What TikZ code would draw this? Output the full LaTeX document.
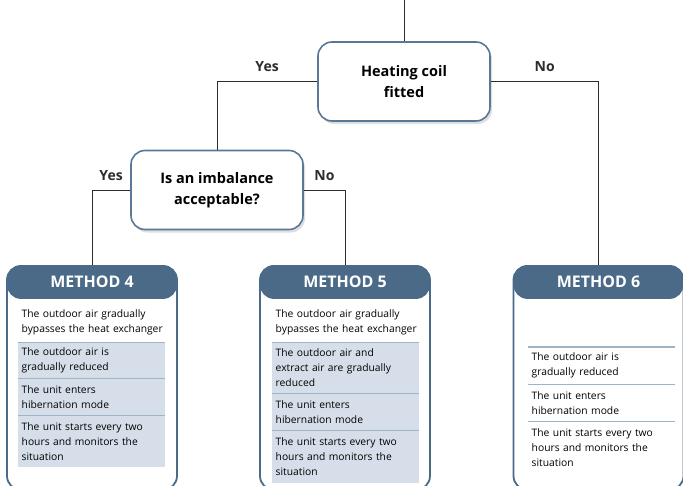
\documentclass[tikz,border=0pt]{standalone}
\usepackage{fontspec}
\setmainfont{Open Sans}
\usepackage{tikz}
\usetikzlibrary{positioning, shadows, calc}
\definecolor{head_blue}{RGB}{74, 106, 136}
\definecolor{dec_border}{RGB}{88, 120, 150}
\definecolor{row_shade}{RGB}{214, 223, 233}
\definecolor{sep_blue}{RGB}{160, 180, 200}
\definecolor{line_gray}{RGB}{45, 45, 45}
\hyphenpenalty=10000
\exhyphenpenalty=10000

\begin{document}
\begin{tikzpicture}[
        x=1pt, y=-1pt,
        decision/.style={draw=dec_border, line width=1.6pt, rounded corners=14pt, fill=white,
            minimum width=172pt, minimum height=79pt, align=center,
            font=\bfseries\fontsize{14.5}{21}\selectfont,
            drop shadow={opacity=0.25, shadow xshift=2pt, shadow yshift=-3pt}},
        methodbox/.style={draw=head_blue, line width=1.8pt, rounded corners=14pt, fill=white,
            minimum width=170pt, minimum height=224pt, anchor=north,
            path picture={\fill[head_blue] (path picture bounding box.north west)
                rectangle ([yshift=-33pt]path picture bounding box.north east);}},
        methodtitle/.style={text=white, font=\bfseries\fontsize{16}{16}\selectfont},
        row/.style={text width=140pt, inner xsep=3.5pt, inner ysep=0pt, align=left,
            font=\fontsize{10.3}{15}\selectfont},
        shaded/.style={row, fill=row_shade},
        sepline/.style={sep_blue, line width=1.2pt},
        link/.style={line_gray, line width=1pt},
        answer/.style={font=\bfseries\fontsize{14}{14}\selectfont, above=6pt}
    ]
        \useasboundingbox (0,0) rectangle (683,485);
        \clip (0,0) rectangle (683,485);

        % -------- Decisions --------
        \node[decision] (hc) at (404,81.5) {Heating coil\\fitted};
        \node[decision] (ia) at (217,190) {Is an imbalance\\acceptable?};

        % -------- Methods --------
        \node[methodbox] (m4) at (92,265) {};
        \node[methodbox] (m5) at (345,265) {};
        \node[methodbox] (m6) at (598.5,265) {};
        \foreach \m/\n in {m4/4, m5/5, m6/6}{
            \node[methodtitle] (t\n) at ([yshift=-16.5pt]\m.north) {METHOD \n};
        }

        % Method 4
        \node[row, minimum height=39pt, anchor=north west] (r41) at (18,303)
            {The outdoor air gradually\\\mbox{bypasses the heat exchanger}};
        \node[shaded, minimum height=36pt, below=0pt of r41] (r42)
            {The outdoor air is\\gradually reduced};
        \node[shaded, minimum height=36pt, below=0pt of r42] (r43)
            {The unit enters\\hibernation mode};
        \node[shaded, minimum height=52pt, below=0pt of r43] (r44)
            {The unit starts every two\\hours and monitors the\\situation};

        % Method 5
        \node[row, minimum height=39pt, anchor=north west] (r51) at (272,303)
            {The outdoor air gradually\\\mbox{bypasses the heat exchanger}};
        \node[shaded, minimum height=51pt, below=0pt of r51] (r52)
            {The outdoor air and\\extract air are gradually\\reduced};
        \node[shaded, minimum height=36pt, below=0pt of r52] (r53)
            {The unit enters\\hibernation mode};
        \node[shaded, minimum height=53pt, below=0pt of r53] (r54)
            {The unit starts every two\\hours and monitors the\\situation};

        % Method 6
        \node[row, minimum height=37pt, anchor=north west] (r62) at (528,347)
            {The outdoor air is\\gradually reduced};
        \node[row, minimum height=37pt, below=0pt of r62] (r63)
            {The unit enters\\hibernation mode};
        \node[row, minimum height=52pt, below=0pt of r63] (r64)
            {The unit starts every two\\hours and monitors the\\situation};

        % Separators
        \foreach \r in {r42, r43, r44, r52, r53, r54, r62, r63, r64}{
            \draw[sepline] (\r.north west) -- (\r.north east);
        }

        % -------- Connectors --------
        \coordinate (top) at (404,0);
        \draw[link] (top) -- (hc.north);
        \draw[link] (hc.west) -| node[answer, pos=0.25] {Yes} (ia.north);
        \draw[link] (hc.east) -| node[answer, pos=0.25] {No} (m6.north);
        \draw[link] (ia.west) -| node[answer, pos=0.25] {Yes} (m4.north);
        \draw[link] (ia.east) -| node[answer, pos=0.25] {No} (m5.north);

    \end{tikzpicture}
\end{document}
